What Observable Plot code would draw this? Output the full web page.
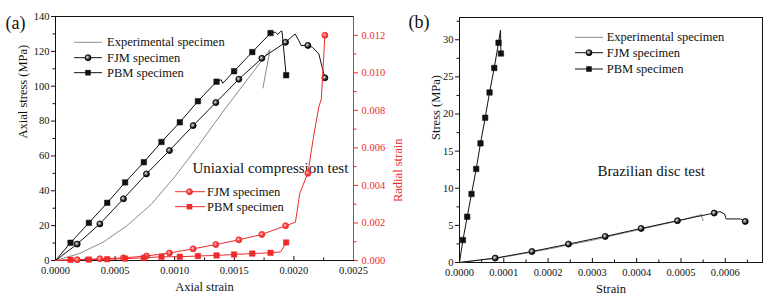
<!DOCTYPE html>
<html>
<head>
<meta charset="utf-8">
<script src="https://cdn.jsdelivr.net/npm/d3@7"></script>
<script src="https://cdn.jsdelivr.net/npm/@observablehq/plot@0.6"></script>
<style>
  body { margin: 0; background: #fff; }
  #wrap { position: relative; width: 769px; height: 302px; overflow: hidden; background: #fff; }
  #wrap svg.plotsvg { position: absolute; top: 0; }
</style>
</head>
<body>
<svg width="0" height="0" style="position:absolute">
  <defs>
    <radialGradient id="gBlk" cx="40%" cy="40%" r="65%">
      <stop offset="0%" stop-color="#f0f0f0"/>
      <stop offset="35%" stop-color="#777"/>
      <stop offset="70%" stop-color="#111"/>
      <stop offset="100%" stop-color="#000"/>
    </radialGradient>
    <radialGradient id="gRed" cx="40%" cy="40%" r="65%">
      <stop offset="0%" stop-color="#ffd8d8"/>
      <stop offset="40%" stop-color="#f55"/>
      <stop offset="100%" stop-color="#e01818"/>
    </radialGradient>
  </defs>
</svg>
<div id="wrap"></div>
<script>
// ---------- Panel (a): Uniaxial compression test ----------
const expAStrain = [0, 0.0002, 0.0004, 0.0006, 0.0008, 0.001, 0.0012, 0.0014, 0.0016, 0.0018, 0.00174];
const expAStress = [0, 4, 10.5, 20, 32, 48, 66, 85, 103, 121, 99];

const fjmAStrain = [0, 0.000182, 0.000372, 0.00057, 0.000763, 0.000956, 0.001155, 0.001345, 0.001538, 0.001731, 0.00193, 0.00201, 0.002041, 0.00206, 0.002117, 0.002155, 0.002209, 0.002237, 0.00226];
const fjmAStress = [0, 9.4, 21.0, 35.4, 49.7, 63.1, 77.4, 90.6, 104, 116, 125.2, 130, 126.2, 123.4, 123.4, 122.4, 118.6, 110.9, 104.8];
const fjmAMarkStrain = [0.000182, 0.000372, 0.00057, 0.000763, 0.000956, 0.001155, 0.001345, 0.001538, 0.001731, 0.00193, 0.002117, 0.00226];
const fjmAMarkStress = [9.4, 21.0, 35.4, 49.7, 63.1, 77.4, 90.6, 104, 116, 125.2, 123.4, 104.8];

const pbmAStrain = [0, 0.000126, 0.00028, 0.000434, 0.000584, 0.000741, 0.000889, 0.001043, 0.001195, 0.001351, 0.00139, 0.001403, 0.001498, 0.001651, 0.001804, 0.001845, 0.001865, 0.001888, 0.0019, 0.001935];
const pbmAStress = [0, 10.2, 21.6, 33.1, 44.8, 56.4, 68, 79.3, 91.4, 102.6, 103.7, 101.7, 108.6, 119.6, 130.5, 131, 129.7, 131.4, 131.6, 106.3];
const pbmAMarkStrain = [0.000126, 0.00028, 0.000434, 0.000584, 0.000741, 0.000889, 0.001043, 0.001195, 0.001351, 0.001498, 0.001651, 0.001804, 0.001935];
const pbmAMarkStress = [10.2, 21.6, 33.1, 44.8, 56.4, 68, 79.3, 91.4, 102.6, 108.6, 119.6, 130.5, 106.3];

// radial strain (right axis)
const fjmRStrain = [0, 0.000182, 0.000372, 0.00057, 0.000763, 0.000956, 0.001155, 0.001345, 0.001538, 0.001731, 0.00193, 0.002013, 0.00205, 0.002117, 0.00217, 0.00221, 0.00223, 0.00226];
const fjmRRadial = [0, 0.00004, 0.00009, 0.00014, 0.00024, 0.0004, 0.00062, 0.00085, 0.0011, 0.00139, 0.00185, 0.00204, 0.0036, 0.00465, 0.0068, 0.0082, 0.0086, 0.012];
const fjmRMarkStrain = [0.000182, 0.000372, 0.00057, 0.000763, 0.000956, 0.001155, 0.001345, 0.001538, 0.001731, 0.00193, 0.002117, 0.00226];
const fjmRMarkRadial = [0.00004, 0.00009, 0.00014, 0.00024, 0.0004, 0.00062, 0.00085, 0.0011, 0.00139, 0.00185, 0.00465, 0.012];

const pbmRStrain = [0, 0.000126, 0.00028, 0.000434, 0.000584, 0.000741, 0.000889, 0.001043, 0.001195, 0.001351, 0.001498, 0.001651, 0.001804, 0.00189, 0.001935];
const pbmRRadial = [0, 0.00004, 0.00005, 0.00007, 0.0001, 0.00014, 0.0002, 0.0002, 0.00024, 0.00027, 0.00032, 0.00037, 0.00041, 0.00046, 0.00096];
const pbmRMarkStrain = [0.000126, 0.00028, 0.000434, 0.000584, 0.000741, 0.000889, 0.001043, 0.001195, 0.001351, 0.001498, 0.001651, 0.001804, 0.001935];
const pbmRMarkRadial = [0.00004, 0.00005, 0.00007, 0.0001, 0.00014, 0.0002, 0.0002, 0.00024, 0.00027, 0.00032, 0.00037, 0.00041, 0.00096];

const aXTicks = [0, 0.0005, 0.001, 0.0015, 0.002, 0.0025];
const aXMinor = [0.00025, 0.00075, 0.00125, 0.00175, 0.00225];
const aYTicks = [0, 20, 40, 60, 80, 100, 120, 140];
const aYMinor = [10, 30, 50, 70, 90, 110, 130];
const aRTicks = [0, 0.002, 0.004, 0.006, 0.008, 0.010, 0.012];
const aRMinor = [0.001, 0.003, 0.005, 0.007, 0.009, 0.011];

// ---------- Panel (b): Brazilian disc test ----------
const expBStrain = [0, 0.0001, 0.0002, 0.0003, 0.0004, 0.0005, 0.00054, 0.000545, 0.00055];
const expBStress = [0, 0.72, 1.8, 3.0, 4.35, 5.7, 6.35, 6.5, 5.63];

const fjmBStrain = [0, 0.0000806, 0.0001635, 0.000246, 0.000329, 0.00041, 0.000492, 0.000575, 0.000588, 0.000598, 0.000602, 0.000634, 0.000645];
const fjmBStress = [0, 0.59, 1.48, 2.48, 3.51, 4.59, 5.63, 6.66, 6.85, 6.55, 5.87, 5.87, 5.53];
const fjmBMarkStrain = [0.0000806, 0.0001635, 0.000246, 0.000329, 0.00041, 0.000492, 0.000575, 0.000645];
const fjmBMarkStress = [0.59, 1.48, 2.48, 3.51, 4.59, 5.63, 6.66, 5.53];

const pbmBStrain = [0, 0.0000077, 0.0000174, 0.0000271, 0.0000377, 0.0000474, 0.000058, 0.0000678, 0.0000784, 0.0000881, 0.0000926, 0.0000935];
const pbmBStress = [0, 3.02, 6.16, 9.23, 12.6, 16.05, 19.5, 22.9, 26.2, 29.6, 31.3, 28.15];
const pbmBMarkStrain = [0.0000077, 0.0000174, 0.0000271, 0.0000377, 0.0000474, 0.000058, 0.0000678, 0.0000784, 0.0000881, 0.0000935];
const pbmBMarkStress = [3.02, 6.16, 9.23, 12.6, 16.05, 19.5, 22.9, 26.2, 29.6, 28.15];

const bXTicks = [0, 0.0001, 0.0002, 0.0003, 0.0004, 0.0005, 0.0006];
const bXMinor = [0.00005, 0.00015, 0.00025, 0.00035, 0.00045, 0.00055, 0.00065];
const bYTicks = [0, 5, 10, 15, 20, 25, 30];
const bYMinor = [2.5, 7.5, 12.5, 17.5, 22.5, 27.5, 32.5];

// ---------- styling ----------
const F = "Liberation Serif";
const RED = "#ee2b2b";
const BLK = "#111";
const GRAY = "#8a8a8a";
const zip = (xs, ys) => xs.map((x, i) => ({x, y: ys[i]}));
const blank = () => "";

function spheres(data, fill, edge, r = 3) {
  return Plot.dot(data, {x: "x", y: "y", r, fill, stroke: edge, strokeWidth: 0.8});
}
function squares(data, color, r = 3.1) {
  return Plot.dot(data, {x: "x", y: "y", r, symbol: "square", fill: color, stroke: color, strokeWidth: 0.5});
}

function legend(svg, items, x0, x1, xm, xt, ys, fs) {
  const g = d3.select(svg).append("g").attr("font-family", F).attr("font-size", fs).attr("text-anchor", "start");
  items.forEach((it, i) => {
    const y = ys[i];
    g.append("line").attr("x1", x0).attr("x2", x1).attr("y1", y).attr("y2", y)
      .attr("stroke", it.color).attr("stroke-width", 1);
    if (it.marker === "circle") {
      g.append("circle").attr("cx", xm).attr("cy", y).attr("r", 3).attr("fill", it.fill).attr("stroke", it.edge).attr("stroke-width", 0.8);
    } else if (it.marker === "square") {
      g.append("rect").attr("x", xm - 2.75).attr("y", y - 2.75).attr("width", 5.5).attr("height", 5.5).attr("fill", it.color);
    }
    g.append("text").attr("x", xt).attr("y", y).attr("dy", "0.33em").attr("text-anchor", "start").attr("fill", "#111").text(it.label);
  });
}

const wrap = document.getElementById("wrap");

// ---------- Panel (a) ----------
const aCommon = {
  width: 420, height: 302,
  marginLeft: 55, marginRight: 67, marginTop: 16, marginBottom: 42,
  style: {fontFamily: F, fontSize: "10.5px", background: "transparent", overflow: "visible", color: "#111"},
  x: {domain: [0, 0.0025], axis: null}
};

const a1 = Plot.plot({
  ...aCommon,
  y: {domain: [0, 140], axis: null},
  marks: [
    Plot.frame({stroke: BLK}),
    Plot.axisY({ticks: aYTicks, tickSize: 4, tickPadding: 2, tickFormat: d => d, label: null}),
    Plot.axisY({ticks: aYMinor, tickSize: 2.5, tickFormat: blank, label: null}),
    Plot.axisX({ticks: aXTicks, tickSize: 0, tickPadding: 6, tickFormat: d3.format(".4f"), label: null}),
    Plot.axisX({ticks: aXTicks, tickSize: 4, dy: -4, tickFormat: blank, label: null}),
    Plot.axisX({ticks: aXMinor, tickSize: 2.5, dy: -2.5, tickFormat: blank, label: null}),
    Plot.line(zip(expAStrain, expAStress), {x: "x", y: "y", stroke: GRAY, strokeWidth: 1}),
    Plot.line(zip(fjmAStrain, fjmAStress), {x: "x", y: "y", stroke: BLK, strokeWidth: 1}),
    Plot.line(zip(pbmAStrain, pbmAStress), {x: "x", y: "y", stroke: BLK, strokeWidth: 1}),
    spheres(zip(fjmAMarkStrain, fjmAMarkStress), "url(#gBlk)", "#000"),
    squares(zip(pbmAMarkStrain, pbmAMarkStress), BLK),
    Plot.text(["Axial stress (MPa)"], {text: d => d, frameAnchor: "left", dx: -33, rotate: -90, fontSize: 12.5, fill: "#111"}),
    Plot.text(["Axial strain"], {text: d => d, frameAnchor: "bottom", dy: 30, fontSize: 12.5, fill: "#111"}),
    Plot.text(["Uniaxial compression test"], {text: d => d, frameAnchor: "top-left", dx: 137, dy: 146, textAnchor: "start", fontSize: 15, fill: "#111"}),
    Plot.text(["(a)"], {text: d => d, frameAnchor: "top-left", dx: -50, dy: 0, textAnchor: "start", fontSize: 18, fill: "#111"})
  ]
});
a1.classList.add("plotsvg");
a1.style.left = "0px";
wrap.appendChild(a1);

const a2 = Plot.plot({
  ...aCommon,
  y: {domain: [0, 0.013], axis: null},
  marks: [
    Plot.ruleX([0.0025], {stroke: RED, strokeWidth: 1}),
    Plot.axisY({anchor: "right", ticks: aRTicks, tickSize: 4, tickPadding: 4, tickFormat: d3.format(".3f"), color: RED, label: null}),
    Plot.axisY({anchor: "right", ticks: aRMinor, tickSize: 2.5, tickFormat: blank, color: RED, label: null}),
    Plot.line(zip(fjmRStrain, fjmRRadial), {x: "x", y: "y", stroke: RED, strokeWidth: 1}),
    Plot.line(zip(pbmRStrain, pbmRRadial), {x: "x", y: "y", stroke: RED, strokeWidth: 1}),
    spheres(zip(fjmRMarkStrain, fjmRMarkRadial), "url(#gRed)", RED),
    squares(zip(pbmRMarkStrain, pbmRMarkRadial), RED),
    Plot.text(["Radial strain"], {text: d => d, frameAnchor: "right", dx: 44, rotate: -90, fontSize: 12.5, fill: RED})
  ]
});
a2.classList.add("plotsvg");
a2.style.left = "0px";
wrap.appendChild(a2);

legend(a2, [
  {label: "Experimental specimen", color: GRAY},
  {label: "FJM specimen", color: BLK, marker: "circle", fill: "url(#gBlk)", edge: "#000"},
  {label: "PBM specimen", color: BLK, marker: "square"}
], 74, 102, 88, 107, [42.3, 57.7, 72.7], 12.5);

legend(a2, [
  {label: "FJM specimen", color: RED, marker: "circle", fill: "url(#gRed)", edge: RED},
  {label: "PBM specimen", color: RED, marker: "square"}
], 175, 205, 189.5, 207, [191.7, 206.7], 12.5);

// ---------- Panel (b) ----------
const b = Plot.plot({
  width: 369, height: 302,
  marginLeft: 59, marginRight: 7, marginTop: 17, marginBottom: 40,
  style: {fontFamily: F, fontSize: "10.5px", background: "transparent", overflow: "visible", color: "#111"},
  x: {domain: [0, 0.000684], axis: null},
  y: {domain: [0, 33], axis: null},
  marks: [
    Plot.frame({stroke: BLK}),
    Plot.axisY({ticks: bYTicks, tickSize: 4, tickPadding: 2, tickFormat: d => d, label: null}),
    Plot.axisY({ticks: bYMinor, tickSize: 2.5, tickFormat: blank, label: null}),
    Plot.axisX({ticks: bXTicks, tickSize: 0, tickPadding: 6, tickFormat: d3.format(".4f"), label: null}),
    Plot.axisX({ticks: bXTicks, tickSize: 4, dy: -4, tickFormat: blank, label: null}),
    Plot.axisX({ticks: bXMinor, tickSize: 2.5, dy: -2.5, tickFormat: blank, label: null}),
    Plot.line(zip(expBStrain, expBStress), {x: "x", y: "y", stroke: GRAY, strokeWidth: 1}),
    Plot.line(zip(fjmBStrain, fjmBStress), {x: "x", y: "y", stroke: BLK, strokeWidth: 1}),
    Plot.line(zip(pbmBStrain, pbmBStress), {x: "x", y: "y", stroke: BLK, strokeWidth: 1}),
    spheres(zip(fjmBMarkStrain, fjmBMarkStress), "url(#gBlk)", "#000"),
    squares(zip(pbmBMarkStrain, pbmBMarkStress), BLK),
    Plot.text(["Stress (MPa)"], {text: d => d, frameAnchor: "left", dx: -24, rotate: -90, fontSize: 12.5, fill: "#111"}),
    Plot.text(["Strain"], {text: d => d, frameAnchor: "bottom", dy: 30, fontSize: 12.5, fill: "#111"}),
    Plot.text(["Brazilian disc test"], {text: d => d, frameAnchor: "top-left", dx: 138, dy: 148, textAnchor: "start", fontSize: 15, fill: "#111"}),
    Plot.text(["(b)"], {text: d => d, frameAnchor: "top-left", dx: -51, dy: -2, textAnchor: "start", fontSize: 18, fill: "#111"})
  ]
});
b.classList.add("plotsvg");
b.style.left = "400px";
wrap.appendChild(b);

legend(b, [
  {label: "Experimental specimen", color: GRAY},
  {label: "FJM specimen", color: BLK, marker: "circle", fill: "url(#gBlk)", edge: "#000"},
  {label: "PBM specimen", color: BLK, marker: "square"}
], 175, 203, 189, 206.7, [37.3, 52.7, 69], 12.5);
</script>
</body>
</html>
